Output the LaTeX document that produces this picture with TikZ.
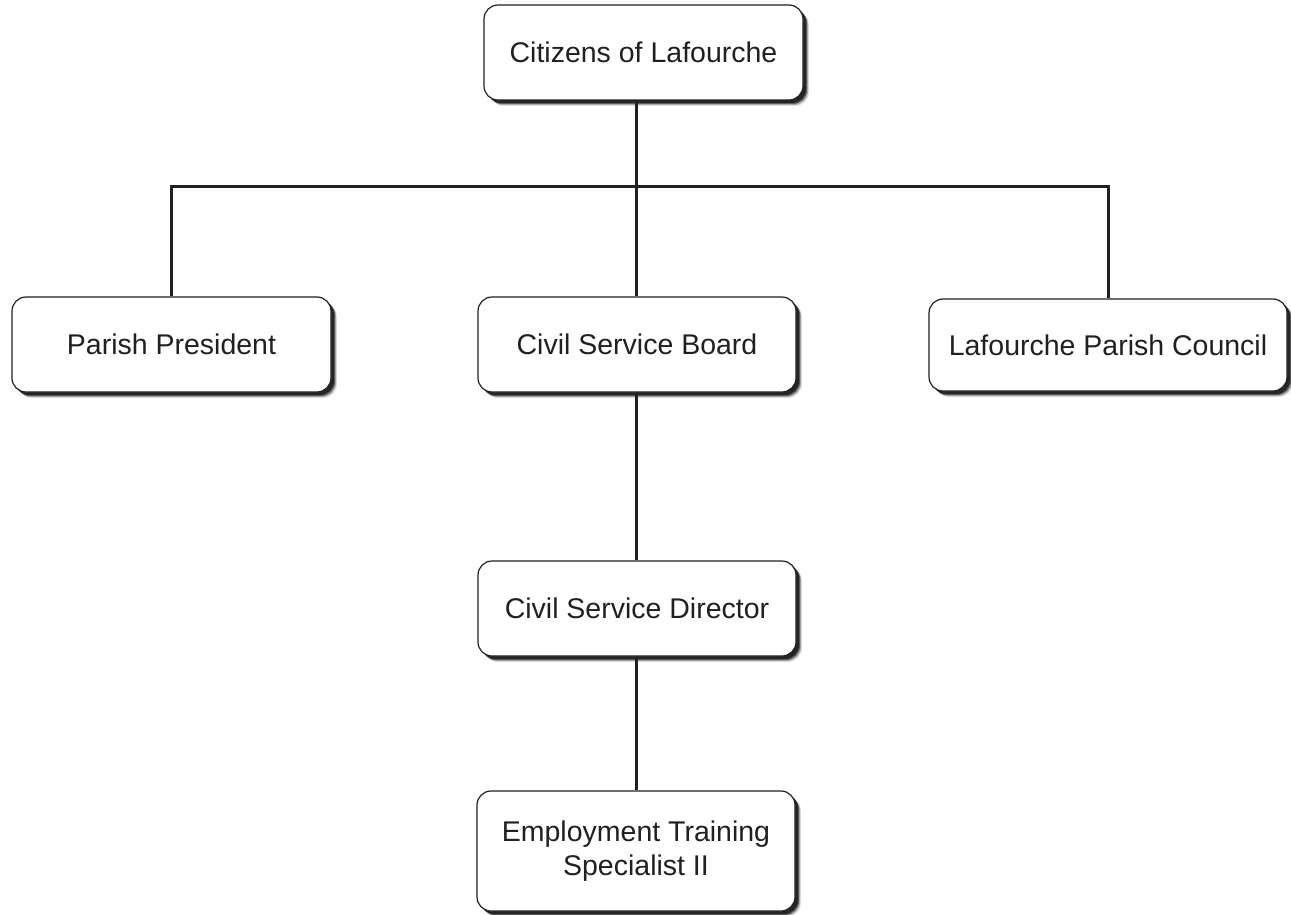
\documentclass[tikz,border=0pt]{standalone}
\usepackage{fontspec}
\setmainfont{Liberation Sans}
\usetikzlibrary{shadows}
\definecolor{ink}{HTML}{231F20}
\tikzset{
  orgbox/.style={draw=ink, line width=1.2pt, fill=white, rounded corners=14pt, text=ink,
    align=center, font=\fontsize{28.5}{34.5}\selectfont, inner sep=0pt,
    general shadow={shadow xshift=6pt, shadow yshift=-6pt, fill=black, opacity=0.12},
    general shadow={shadow xshift=5pt, shadow yshift=-5pt, fill=black, opacity=0.25},
    general shadow={shadow xshift=4pt, shadow yshift=-4pt, fill=black, opacity=0.45},
    general shadow={shadow xshift=3pt, shadow yshift=-3pt, fill=black, opacity=0.6}},
  link/.style={line width=3pt, ink}
}
\begin{document}
\begin{tikzpicture}[x=1pt,y=-1pt]
\useasboundingbox (0,0) rectangle (1291,915);
\node[orgbox, minimum width=319pt, minimum height=95pt] (cit) at (643.5,52.5) {Citizens of Lafourche};
\node[orgbox, minimum width=319pt, minimum height=95pt] (pp) at (171.5,344.5) {Parish President};
\node[orgbox, minimum width=318pt, minimum height=95pt] (csb) at (637,344.5) {Civil Service Board};
\node[orgbox, minimum width=358pt, minimum height=92pt] (lpc) at (1108,345) {Lafourche Parish Council};
\node[orgbox, minimum width=318pt, minimum height=95pt] (csd) at (637,608.5) {Civil Service Director};
\node[orgbox, minimum width=318pt, minimum height=120pt] (ets) at (636,851) {Employment Training\\Specialist II};
\coordinate (j) at (636,187);
\draw[link] (cit.south -| j) -- (j);
\draw[link] (pp.north) -- (pp.north |- j) -- (lpc.north |- j) -- (lpc.north);
\draw[link] (j) -- (csb.north -| j);
\draw[link] (csb.south -| j) -- (csd.north -| j);
\draw[link] (csd.south -| j) -- (ets.north -| j);
\end{tikzpicture}
\end{document}
